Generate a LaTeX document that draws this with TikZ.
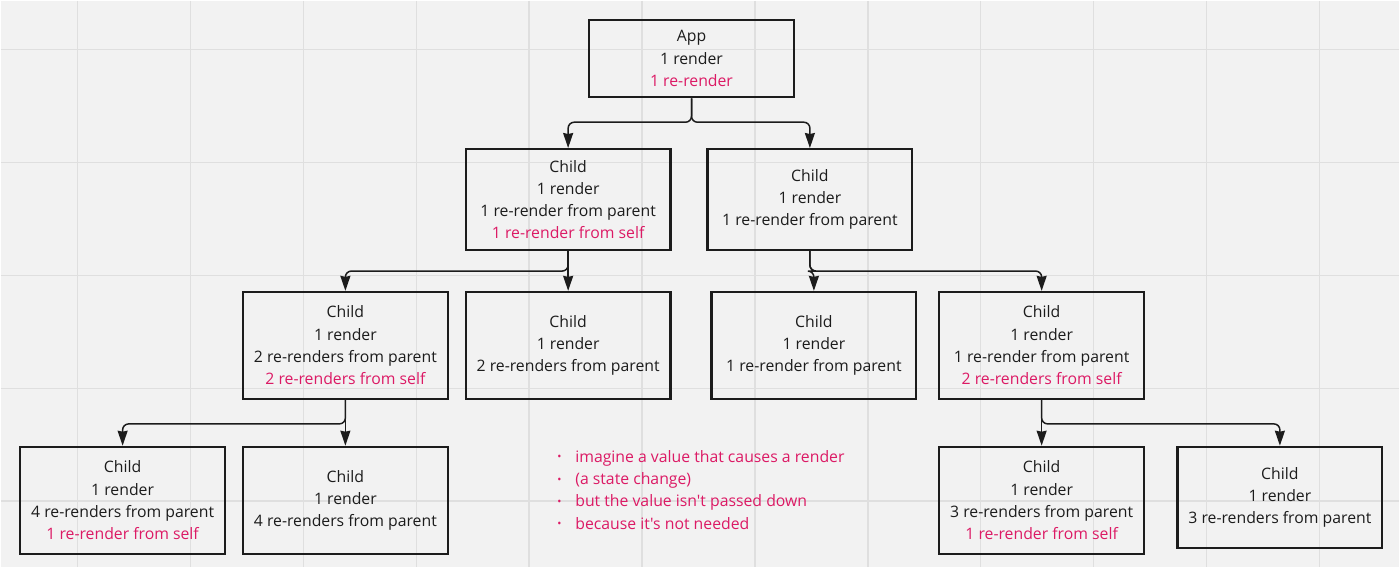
\documentclass[tikz,border=0pt]{standalone}
\usepackage{fontspec}
\setmainfont{Open Sans}
\newfontfamily\osans{Open Sans}
\usepackage{tikz}
\usetikzlibrary{arrows.meta,positioning}
\definecolor{paper}{HTML}{F2F2F2}
\definecolor{gridln}{HTML}{DFDFDF}
\definecolor{ink}{HTML}{1C1C1C}
\definecolor{hot}{HTML}{DC1A65}
\newcommand{\hot}[1]{\textcolor{hot}{#1}}
\newcommand{\bul}{\makebox[18pt][l]{\raisebox{1.5pt}{\fontsize{11}{11}\selectfont •}}}

\begin{document}
\begin{tikzpicture}[x=1pt,y=-1pt,
  box/.style={draw=ink,line width=2.2pt,minimum width=205pt,align=center,text=ink,
    font=\osans\fontsize{15.8}{22.3}\selectfont,inner sep=0pt},
  link/.style={draw=ink,line width=1.5pt,rounded corners=6pt,
    -{Stealth[length=15pt,width=10pt,inset=1pt]}}]
\fill[paper] (0,0) rectangle (1400,567);
\foreach \gx in {77,190,...,1320}
  \draw[gridln,line width=1.5pt] (\gx,0) -- (\gx,567);
\foreach \gy in {49,162,...,501}
  \draw[gridln,line width=1.5pt] (0,\gy) -- (1400,\gy);
% top
\node[box,minimum height=77pt] (app) at (691.5,58) {App\\1 render\\\hot{1 re-render}};
% second row
\node[box,minimum height=101pt] (kidA) at (568,199) {Child\\1 render\\1 re-render from parent\\\hot{1 re-render from self}};
\node[box,minimum height=101pt] (kidB) at (810,199) {Child\\1 render\\1 re-render from parent};
% third row
\node[box,minimum height=107pt] (g1) at (345,345) {Child\\1 render\\2 re-renders from parent\\\hot{2 re-renders from self}};
\node[box,minimum height=107pt] (g2) at (568,345) {Child\\1 render\\2 re-renders from parent};
\node[box,minimum height=107pt] (g3) at (814,345) {Child\\1 render\\1 re-render from parent};
\node[box,minimum height=107pt] (g4) at (1042,345) {Child\\1 render\\1 re-render from parent\\\hot{2 re-renders from self}};
% bottom row
\node[box,minimum height=107pt] (gg1) at (122,500) {Child\\1 render\\4 re-renders from parent\\\hot{1 re-render from self}};
\node[box,minimum height=107pt] (gg2) at (345,500) {Child\\1 render\\4 re-renders from parent};
\node[box,minimum height=107pt] (gg3) at (1042,500) {Child\\1 render\\3 re-renders from parent\\\hot{1 re-render from self}};
\node[box,minimum height=101pt] (gg4) at (1280.5,497) {Child\\1 render\\3 re-renders from parent};
% note
\node[anchor=west,inner sep=0pt,align=left,text=hot,font=\osans\fontsize{15.8}{22.3}\selectfont] (note) at (557,489.5)
  {\bul imagine a value that causes a render\\\bul (a state change)\\\bul but the value isn't passed down\\\bul because it's not needed};
% links
\draw[link] (app.south) -- ++(0,24) -| (kidA.north);
\draw[link] (app.south) -- ++(0,24) -| (kidB.north);
\draw[link] (kidA.south) -- ++(0,20) -| (g1.north);
\draw[link] (kidA.south) -- (g2.north);
\draw[link] (kidB.south) -- ++(0,20) -| (g3.north);
\draw[link] (kidB.south) -- ++(0,20) -| (g4.north);
\draw[link] (g1.south) -- ++(0,24) -| (gg1.north);
\draw[link] (g1.south) -- (gg2.north);
\draw[link] (g4.south) -- (gg3.north);
\draw[link] (g4.south) -- ++(0,24) -| (gg4.north);
\end{tikzpicture}
\end{document}
